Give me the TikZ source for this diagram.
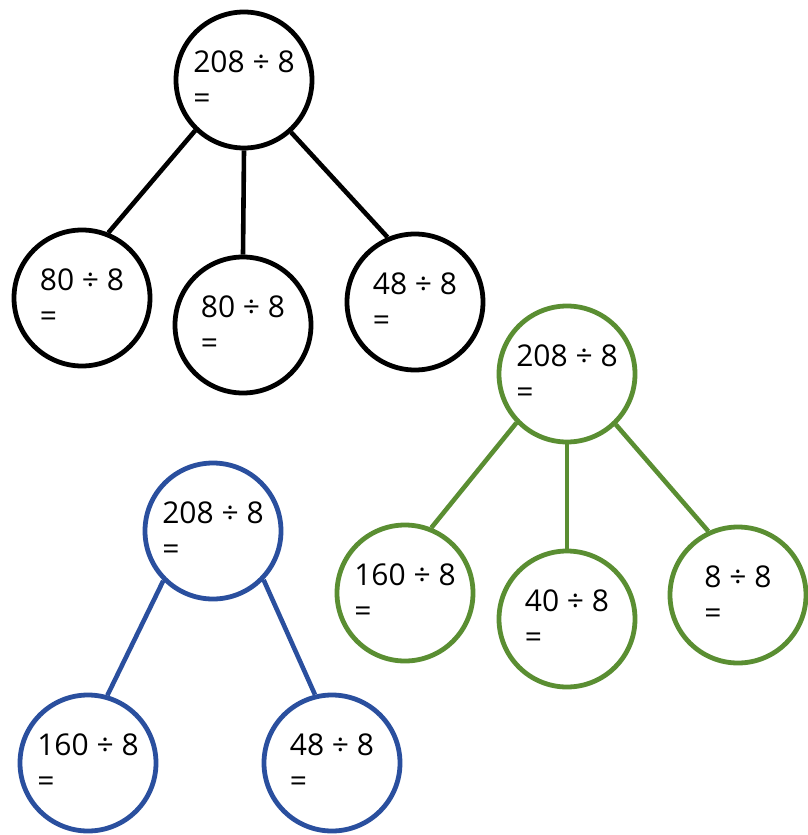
\documentclass[tikz,border=0pt]{standalone}
\usepackage{fontspec}
\setmainfont{Open Sans}
\usepackage{tikz}
\usetikzlibrary{positioning}
\definecolor{treegreen}{RGB}{90,142,50}
\definecolor{treeblue}{RGB}{42,79,158}
\tikzset{bubble/.style={circle,draw,line width=2.4pt,minimum size=68pt,inner sep=0pt,align=left,font=\fontsize{15}{18}\selectfont},
         link/.style={line width=2.3pt}}

\begin{document}
\begin{tikzpicture}[x=0.5pt,y=-0.5pt]
    \useasboundingbox (0,0) rectangle (808,835);
    % black tree
    \node (btop) [bubble] at (244,80) {208 ÷ 8\\=};
    \node (bleft) [bubble] at (82,298) {80 ÷ 8\\=};
    \node (bmid) [bubble] at (243,325) {80 ÷ 8\\=};
    \node (bright) [bubble] at (415,302) {48 ÷ 8\\=};
    \draw[link] (btop.226) -- (bleft.68);
    \draw[link] (btop.south) -- (bmid.north);
    \draw[link] (btop.312) -- (bright.113);
    % green tree
    \node (gtop) [bubble, treegreen, text=black] at (567,374) {208 ÷ 8\\=};
    \node (gleft) [bubble, treegreen, text=black] at (405,593) {160 ÷ 8\\=};
    \node (gmid) [bubble, treegreen, text=black] at (567,619) {40 ÷ 8\\=};
    \node (gright) [bubble, treegreen, text=black] at (738,595) {8 ÷ 8\\=};
    \draw[link, treegreen] (gtop.224) -- (gleft.68);
    \draw[link, treegreen] (gtop.south) -- (gmid.north);
    \draw[link, treegreen] (gtop.314) -- (gright.115);
    % blue tree
    \node (ltop) [bubble, treeblue, text=black] at (213,531) {208 ÷ 8\\=};
    \node (lleft) [bubble, treeblue, text=black] at (88,763) {160 ÷ 8\\=};
    \node (lright) [bubble, treeblue, text=black] at (332,763) {48 ÷ 8\\=};
    \draw[link, treeblue] (ltop.225) -- (lleft.74);
    \draw[link, treeblue] (ltop.316) -- (lright.104);
\end{tikzpicture}
\end{document}
